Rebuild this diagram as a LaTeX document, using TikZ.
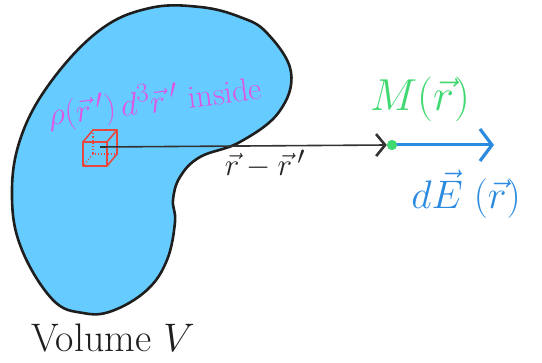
\documentclass[tikz,border=0pt]{standalone}
\usetikzlibrary{arrows.meta}
\definecolor{blobfill}{HTML}{66CCFF}
\definecolor{blobline}{HTML}{1E1E1E}
\definecolor{cubered}{HTML}{E8473F}
\definecolor{magentatext}{HTML}{E055E6}
\definecolor{greenM}{HTML}{40D870}
\definecolor{blueE}{HTML}{2B8BE0}
\tikzset{
  cubeedge/.style={cubered, line width=1.6pt, line join=round, line cap=round},
  cubehidden/.style={cubered, line width=1.2pt, dotted},
  lbl/.style={inner sep=0pt, anchor=center, font=\Huge},
}
\begin{document}
\begin{tikzpicture}[x=1pt,y=-1pt]
\useasboundingbox (0,0) rectangle (542,363);
% blob
\draw[fill=blobfill, draw=blobline, line width=2.6pt]
  plot[smooth cycle, tension=0.65] coordinates {
  (20,140) (50,83) (100,30) (150,8) (200,7) (240,17) (267,33) (291,72)
  (279,112) (240,142) (200,157) (180,177) (173,200) (175,222) (167,260)
  (147,290) (112,311) (83,313) (53,300) (22,250) (12,198)};
% cube
\coordinate (cubeA) at (83,142);
\coordinate (cubeB) at (107,142);
\coordinate (cubeC) at (107,166);
\coordinate (cubeD) at (83,166);
\coordinate (cubeE) at (93,130);
\coordinate (cubeF) at (117,130);
\coordinate (cubeG) at (117,154);
\coordinate (cubeH) at (93,154);
\draw[cubeedge] (cubeA) -- (cubeB) -- (cubeC) -- (cubeD) -- cycle;
\draw[cubeedge] (cubeA) -- (cubeE) -- (cubeF) -- (cubeB);
\draw[cubeedge] (cubeF) -- (cubeG) -- (cubeC);
\draw[cubehidden] (cubeE) -- (cubeH) -- (cubeG);
\draw[cubehidden] (cubeH) -- (cubeD);
\coordinate (src) at (100,147);
% point M
\node[circle, fill=greenM, minimum size=10pt, inner sep=0pt] (dotM) at (392,145) {};
\coordinate (Etip) at (494,145);
% r - r' arrow
\draw[black!80, line width=1.6pt, -{Straight Barb[length=9pt,width=22pt,line width=2.6pt]}]
  (src) -- (dotM.west);
% dE arrow
\draw[blueE, line width=3pt, -{Straight Barb[length=12pt,width=32pt,line width=3.2pt]}]
  (dotM.center) -- (Etip);
\node[circle, fill=greenM, minimum size=10pt, inner sep=0pt] at (dotM) {};
% labels
\node[lbl, magentatext, rotate=7, scale=1.3] (rholbl) at (155,102)
  {$\rho(\vec{r}\,')\,d^3\vec{r}\,'$ inside};
\node[lbl, black!85, scale=1.25] (rrlbl) at (265,164)
  {$\vec{r}-\vec{r}\,'$};
\node[lbl, greenM, scale=1.8] (Mlbl) at (420,99)
  {$M(\vec{r})$};
\node[lbl, blueE, scale=1.6] (Elbl) at (466,194)
  {$d\vec{E}\;(\vec{r})$};
\node[lbl, blobline, scale=1.6] (vollbl) at (113,338)
  {Volume $V$};
\end{tikzpicture}
\end{document}
